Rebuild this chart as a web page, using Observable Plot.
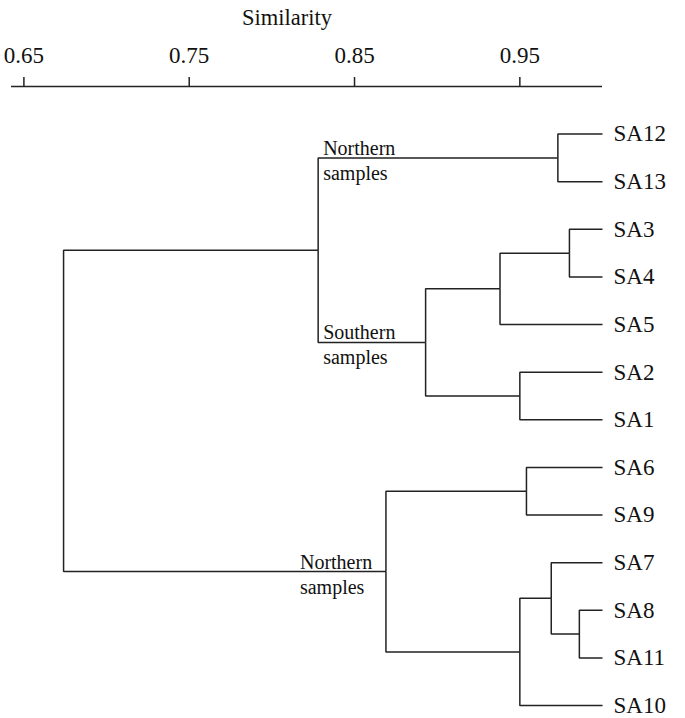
<!DOCTYPE html>
<html>
<head>
<meta charset="utf-8">
<script src="https://cdn.jsdelivr.net/npm/d3@7"></script>
<script src="https://cdn.jsdelivr.net/npm/@observablehq/plot@0.6"></script>
<style>
  html, body { margin: 0; padding: 0; background: #fff; }
</style>
</head>
<body>
<div id="chart"></div>
<script>
// Leaf order (top to bottom)
const leaves = ["SA12", "SA13", "SA3", "SA4", "SA5", "SA2", "SA1", "SA6", "SA9", "SA7", "SA8", "SA11", "SA10"];
const leafSimilarity = 1.0;

// Merges: [id, childA, childB, similarity]
const mergeIds =    ["n1",   "n2",  "n3",  "n4",  "n5",  "n6",  "n7",  "n8",   "n9",  "n10", "n11", "root"];
const mergeLeft =   ["SA12", "SA3", "n2",  "SA2", "n3",  "n1",  "SA6", "SA8",  "SA7", "n9",  "n7",  "n6"];
const mergeRight =  ["SA13", "SA4", "SA5", "SA1", "n4",  "n5",  "SA9", "SA11", "n8",  "SA10","n10", "n11"];
const mergeSim =    [0.973,  0.980, 0.938, 0.950, 0.893, 0.828, 0.954, 0.986,  0.969, 0.950, 0.869, 0.674];

// Group labels attached to branches (node whose incoming branch is labelled)
const groupNodes =  ["n1", "n5", "n11"];
const groupTop =    ["Northern", "Southern", "Northern"];
const groupBottom = ["samples", "samples", "samples"];
const groupSide =   ["start", "start", "end"];

// Axis ticks
const tickValues = [0.65, 0.75, 0.85, 0.95];
const axisTitle = "Similarity";

// ---- build node table ----
const nodes = new Map();
leaves.forEach((name, i) => nodes.set(name, {id: name, sim: leafSimilarity, y: i}));
mergeIds.forEach((id, i) => {
  const a = nodes.get(mergeLeft[i]), b = nodes.get(mergeRight[i]);
  const n = {id, sim: mergeSim[i], y: (a.y + b.y) / 2};
  a.parent = n; b.parent = n;
  nodes.set(id, n);
});
const links = [];
for (const n of nodes.values()) {
  if (n.parent) links.push({px: n.parent.sim, py: n.parent.y, cx: n.sim, cy: n.y});
}
const leafRows = leaves.map(name => nodes.get(name));
const groups = groupNodes.map((id, i) => {
  const n = nodes.get(id);
  // start-side labels sit at the parent end of the branch, end-side ones just before the child node
  const x = groupSide[i] === "start" ? n.parent.sim : n.sim;
  return {x, y: n.y, top: groupTop[i], bottom: groupBottom[i], side: groupSide[i]};
});
const axisRow = [{y: -1}];

const font = "'Liberation Serif', 'Times New Roman', serif";

const chart = Plot.plot({
  width: 685,
  height: 718,
  marginLeft: 11,
  marginRight: 83,
  marginTop: 86,
  marginBottom: 13,
  style: {fontFamily: font, fontSize: "23px", color: "#111", background: "#fff"},
  x: {domain: [0.6425, 1.0]},
  y: {domain: [-1, 12], reverse: true, axis: null},
  marks: [
    Plot.axisX({anchor: "top", ticks: tickValues, tickFormat: d3.format(".2f"), tickSize: 10, tickPadding: 14, label: null, stroke: "#222", strokeWidth: 1.5}),
    Plot.ruleY(axisRow, {y: "y", stroke: "#222", strokeWidth: 1.6}),
    Plot.text([axisTitle], {frameAnchor: "top", text: d => d, dx: -20, dy: -69, lineAnchor: "middle", fontSize: 22.5, fill: "#111"}),
    Plot.link(links, {x1: "px", y1: "py", x2: "cx", y2: "cy", curve: "step-before", stroke: "#222", strokeWidth: 1.5}),
    Plot.text(leafRows, {x: "sim", y: "y", text: "id", textAnchor: "start", dx: 11, fontSize: 23, fill: "#111"}),
    Plot.text(groups.filter(g => g.side === "start"), {x: "x", y: "y", text: d => d.top + "\n" + d.bottom, textAnchor: "start", dx: 5, dy: 1.5, lineHeight: 1.25, fontSize: 20, fill: "#111"}),
    Plot.text(groups.filter(g => g.side === "end"), {x: "x", y: "y", text: d => d.top + "\n" + d.bottom, textAnchor: "start", dx: -86, dy: 1.5, lineHeight: 1.25, fontSize: 20, fill: "#111"})
  ]
});
document.getElementById("chart").appendChild(chart);
</script>
</body>
</html>
